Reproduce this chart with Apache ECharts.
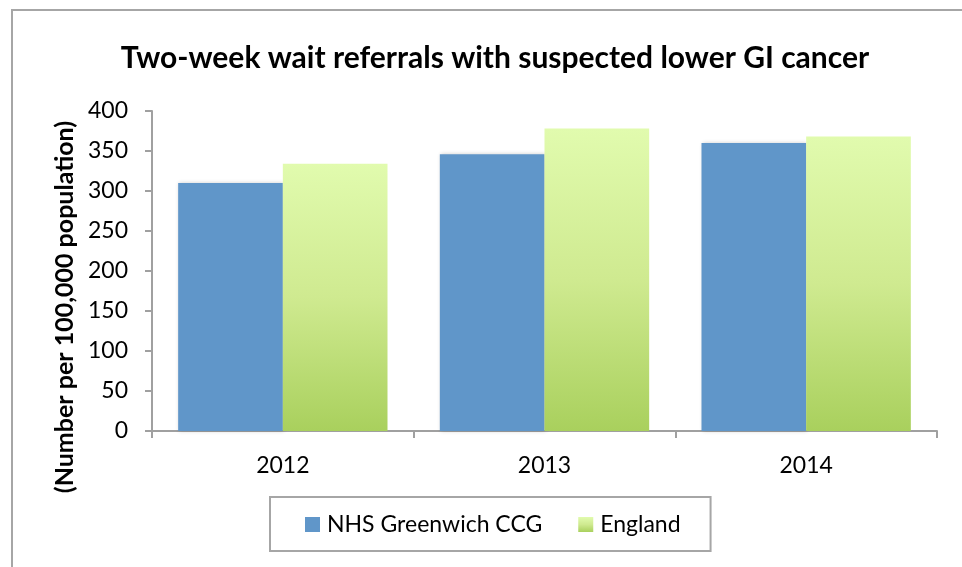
<!DOCTYPE html>
<html>
<head>
<meta charset="utf-8">
<script src="https://cdn.jsdelivr.net/npm/echarts@6/dist/echarts.min.js"></script>
<style>
  html, body { margin: 0; padding: 0; background: #fff; }
  #chart { width: 962px; height: 567px; }
</style>
</head>
<body>
<div id="chart"></div>
<script>
// data
const years = ['2012', '2013', '2014']
const greenwich = [310, 346, 360]
const england = [334, 378, 368]
const yTicks = { min: 0, max: 400, interval: 50 }

const font = 'Lato, "Open Sans", sans-serif'
const axisGrey = '#a0a0a0'

const chart = echarts.init(document.getElementById('chart'))

const option = {
  backgroundColor: '#fff',
  textStyle: { fontFamily: font, color: '#000' },
  graphic: [
    {
      // outer chart frame
      type: 'rect',
      shape: { x: 12, y: 10, width: 980, height: 600 },
      style: { fill: 'none', stroke: '#a6a6a6', lineWidth: 2 },
      silent: true
    }
  ],
  title: {
    text: 'Two-week wait referrals with suspected lower GI cancer',
    left: 490,
    top: 38,
    textAlign: 'center',
    textStyle: { fontFamily: font, fontSize: 30, fontWeight: 'bold', color: '#000' }
  },
  grid: { left: 152, right: 25, top: 111, bottom: 136 },
  legend: {
    left: 270,
    top: 497,
    padding: [16, 30, 15, 35],
    itemGap: 36,
    itemWidth: 15,
    itemHeight: 15,
    borderColor: '#a6a6a6',
    borderWidth: 2,
    icon: 'rect',
    textStyle: { fontFamily: font, fontSize: 23, color: '#000', padding: [0, 0, 0, 2] },
    data: ['NHS Greenwich CCG', 'England']
  },
  xAxis: {
    type: 'category',
    data: years,
    axisLine: { lineStyle: { color: axisGrey, width: 2 } },
    axisTick: { show: true, length: 7, lineStyle: { color: axisGrey, width: 2 } },
    axisLabel: { fontFamily: font, fontSize: 23, color: '#000', margin: 23 }
  },
  yAxis: {
    type: 'value',
    min: yTicks.min,
    max: yTicks.max,
    interval: yTicks.interval,
    name: '(Number per 100,000 population)',
    nameLocation: 'middle',
    nameGap: 70,
    nameTextStyle: { fontFamily: font, fontSize: 25, fontWeight: 'bold', color: '#000', padding: [0, 72, 0, 0] },
    axisLine: { show: true, lineStyle: { color: axisGrey, width: 2 } },
    axisTick: { show: true, length: 7, lineStyle: { color: axisGrey, width: 2 } },
    splitLine: { show: false },
    axisLabel: { fontFamily: font, fontSize: 23, color: '#000', margin: 24 }
  },
  series: [
    {
      name: 'NHS Greenwich CCG',
      type: 'bar',
      data: greenwich,
      barGap: '0%',
      barCategoryGap: '20%',
      itemStyle: {
        color: '#6096c9',
        shadowBlur: 4,
        shadowColor: 'rgba(0,0,0,0.2)',
        shadowOffsetX: 1
      }
    },
    {
      name: 'England',
      type: 'bar',
      data: england,
      barGap: '0%',
      barCategoryGap: '20%',
      itemStyle: {
        color: new echarts.graphic.LinearGradient(0, 0, 0, 1, [
          { offset: 0, color: '#e1fbae' },
          { offset: 0.5, color: '#cfea90' },
          { offset: 1, color: '#a9d05d' }
        ]),
        shadowBlur: 5,
        shadowColor: 'rgba(0,0,0,0.25)',
        shadowOffsetX: 2
      }
    }
  ]
}

chart.setOption(option)
</script>
</body>
</html>
